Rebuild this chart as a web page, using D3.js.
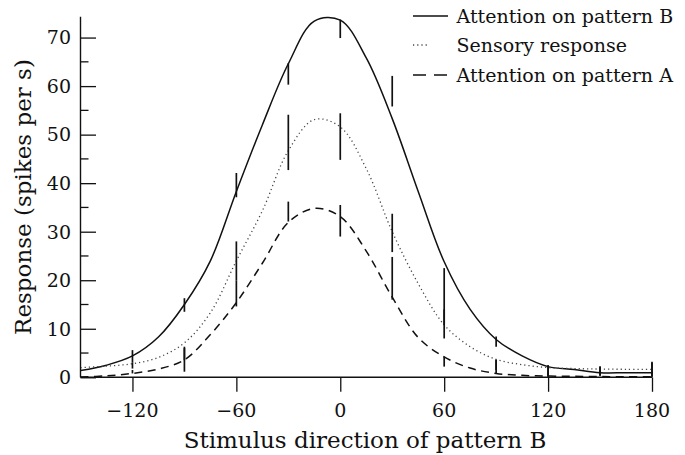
<!DOCTYPE html>
<html><head><meta charset="utf-8">
<script src="https://cdn.jsdelivr.net/npm/d3@7"></script>
<style>body{margin:0;background:#fff}svg{display:block}</style>
</head><body><svg id="c" width="685" height="455"></svg>
<script>
// ---- data ----
const angles = [-150,-135,-120,-105,-90,-75,-60,-45,-30,-15,0,15,30,45,60,75,90,105,120,135,150,165,180];
const attnB   = [1.4,2.5,4.4,8.3,15.0,24.0,38.3,52.0,64.6,73.4,73.6,65.8,53.3,38.3,23.8,14.0,7.8,4.4,2.2,1.6,0.95,0.95,0.95];
const sensory = [2.0,2.3,2.8,4.1,7.1,13.3,24.0,34.3,46.7,53.1,51.6,43.0,30.0,19.3,10.8,6.3,3.7,2.6,2.0,1.8,1.7,1.65,1.65];
const attnA   = [0.05,0.3,0.8,1.7,3.6,8.8,15.4,23.5,31.9,34.8,33.1,26.0,16.5,8.2,4.2,1.9,0.8,0.4,0.25,0.2,0.15,0.1,0.1];
const barAngles = [-120,-90,-60,-30,0,30,60,90,120,150,180];
const barBLow   = [3.0,13.5,37.1,60.3,69.9,55.8,10.8,6.3,0.1,0.3,0.1];
const barBHigh  = [5.6,16.3,42.1,64.7,73.7,62.1,22.5,8.4,2.5,2.2,3.2];
const barSLow   = [1.8,3.5,20.0,42.7,44.8,25.8,8.0,1.5,0.5,0.8,0.8];
const barSHigh  = [3.0,6.0,28.0,54.1,54.4,33.7,14.0,3.6,2.5,2.2,3.0];
const barALow   = [0.8,1.15,14.6,32.1,29.0,16.0,2.2,0.9,0.1,0.3,0.1];
const barAHigh  = [1.5,6.3,20.0,36.2,35.5,24.8,4.25,3.6,1.0,1.0,1.0];
const xTicks = [-120,-60,0,60,120,180];
const yTicks = [0,10,20,30,40,50,60,70];
const yMinor = [5,15,25,35,45,55,65];
const legendLabels = ["Attention on pattern B","Sensory response","Attention on pattern A"];
const xTitle = "Stimulus direction of pattern B";
const yTitle = "Response (spikes per s)";

// ---- drawing ----
const svg = d3.select("#c");
const FONT = "'DejaVu Serif', serif";
const x = d3.scaleLinear().domain([-150,180]).range([80.5,652]);
const y = d3.scaleLinear().domain([0,74.3]).range([377.3,16.7]);
const ink = "#111";

const styles = [
  {vals: attnB, lo: barBLow, hi: barBHigh, dash: null, w: 1.5, color: ink},
  {vals: sensory, lo: barSLow, hi: barSHigh, dash: "1.2,3", w: 1.3, color: "#444"},
  {vals: attnA, lo: barALow, hi: barAHigh, dash: "8,5.5", w: 1.5, color: ink}
];

const line = d3.line().curve(d3.curveCatmullRom.alpha(0.5));
styles.forEach(s => {
  svg.append("path")
    .attr("d", line(angles.map((a,i)=>[x(a), y(s.vals[i])])))
    .attr("fill","none").attr("stroke", s.color).attr("stroke-width", s.w)
    .attr("stroke-dasharray", s.dash);
});
styles.forEach(s => {
  svg.append("g").selectAll("line").data(barAngles).join("line")
    .attr("x1", d=>x(d)).attr("x2", d=>x(d))
    .attr("y1", (d,i)=>y(s.lo[i])).attr("y2", (d,i)=>y(s.hi[i]))
    .attr("stroke", ink).attr("stroke-width", 1.7);
});

// axes
const yAxis = d3.axisRight(y).tickValues(yTicks).tickSize(15.5).tickFormat("");
const gy = svg.append("g").attr("transform","translate(80.5,0)").call(yAxis);
gy.append("g").selectAll("line").data(yMinor).join("line")
  .attr("x1",0).attr("x2",8).attr("y1",d=>y(d)).attr("y2",d=>y(d));
gy.selectAll("line").attr("stroke", ink).attr("stroke-width",1.3);
gy.select(".domain").attr("d", `M0,${y.range()[1]}V${y.range()[0]}`).attr("stroke",ink).attr("stroke-width",1.4);
svg.append("g").selectAll("text").data(yTicks).join("text")
  .attr("x",71).attr("y",d=>y(d)).attr("dy","0.36em")
  .attr("text-anchor","end").attr("font-family",FONT).attr("font-size",19).attr("fill",ink)
  .text(d=>d);

const xAxis = d3.axisBottom(x).tickValues(xTicks).tickSize(14.5).tickFormat("");
const gx = svg.append("g").attr("transform",`translate(0,${y(0)})`).call(xAxis);
gx.selectAll("line").attr("stroke",ink).attr("stroke-width",1.3);
gx.select(".domain").attr("d", `M${x.range()[0]},0H${x.range()[1]}`).attr("stroke",ink).attr("stroke-width",1.4);
svg.append("g").selectAll("text").data(xTicks).join("text")
  .attr("x",d=>x(d)).attr("y",417)
  .attr("text-anchor","middle").attr("font-family",FONT).attr("font-size",19).attr("fill",ink)
  .text(d=>d<0 ? "\u2212"+Math.abs(d) : d);

svg.append("text").attr("x",365).attr("y",448)
  .attr("text-anchor","middle").attr("font-family",FONT).attr("font-size",23).attr("fill",ink)
  .text(xTitle);
svg.append("text").attr("transform","translate(31,197) rotate(-90)")
  .attr("text-anchor","middle").attr("font-family",FONT).attr("font-size",23).attr("fill",ink)
  .text(yTitle);

// legend
const leg = svg.append("g");
const legY = [16,45,75];
const legLen = [35,16,35];
styles.forEach((s,i)=>{
  leg.append("line").attr("x1",413).attr("x2",413+legLen[i]).attr("y1",legY[i]).attr("y2",legY[i])
    .attr("stroke",s.color).attr("stroke-width",s.w).attr("stroke-dasharray", i==2 ? "13,8" : s.dash);
  leg.append("text").attr("x",456.5).attr("y",legY[i]+6.5)
    .attr("font-family",FONT).attr("font-size",19).attr("fill",ink).text(legendLabels[i]);
});
</script></body></html>
